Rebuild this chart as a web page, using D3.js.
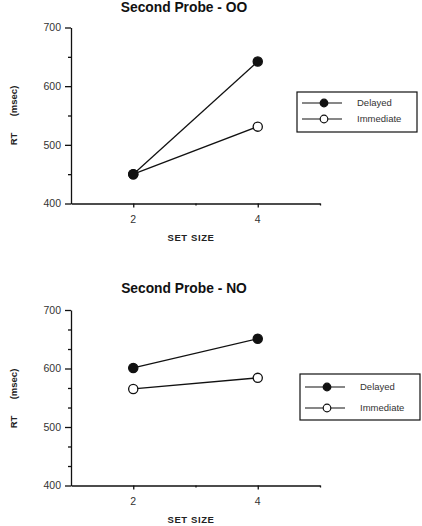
<!DOCTYPE html>
<html>
<head>
<meta charset="utf-8">
<script src="https://cdn.jsdelivr.net/npm/d3@7"></script>
<style>
  html, body { margin: 0; padding: 0; background: #fff; }
  svg { display: block; font-family: "Liberation Sans", Arial, sans-serif; }
  .title { font-size: 13.8px; font-weight: bold; fill: #111; }
  .axis-label { font-size: 9.5px; font-weight: bold; fill: #222; }
  .tick-label { font-size: 10.5px; fill: #333; }
  .legend-text { font-size: 9.5px; fill: #333; }
</style>
</head>
<body>
<script>
// data
const setSizes = [2, 4];
const seriesNames = ["Delayed", "Immediate"];
const ooDelayed = [450, 642];
const ooImmediate = [450, 531];
const noDelayed = [601, 651];
const noImmediate = [565, 584];
const yTicks = [400, 500, 600, 700];
const xTicks = [2, 4];
const xMinorTicks = [3, 5];
const ooMinor = [450, 550, 650];
const noMinor = [433.3, 466.7, 533.3, 566.7, 633.3, 666.7];

(function () {
  "use strict";

  const W = 422, H = 526;
  const ink = "#111";

  const svg = d3.select("body").append("svg")
    .attr("width", W)
    .attr("height", H);

  const x = d3.scaleLinear().domain([1, 5]).range([71, 320]);

  function drawPanel(opt) {
    const g = svg.append("g");
    const y = d3.scaleLinear().domain([400, 700]).range([opt.bottom, opt.top]);

    g.append("text").attr("class", "title")
      .attr("x", 184).attr("y", opt.titleY)
      .attr("text-anchor", "middle")
      .text(opt.title);

    // y axis
    const yAxis = g.append("g").attr("transform", `translate(${x(1)},0)`);
    yAxis.call(d3.axisLeft(y).tickValues(yTicks).tickSize(6).tickSizeOuter(0).tickFormat(""));
    yAxis.append("g").call(d3.axisLeft(y).tickValues(opt.minor).tickSize(3).tickFormat(""))
      .select(".domain").remove();
    yAxis.selectAll("line, path").attr("stroke", ink).attr("stroke-width", 1.3);

    g.selectAll(".ylab").data(yTicks).join("text")
      .attr("class", "tick-label")
      .attr("x", 61).attr("y", d => y(d))
      .attr("dy", "0.35em")
      .attr("text-anchor", "end")
      .text(d => d);

    // x axis
    const xAxis = g.append("g").attr("transform", `translate(0,${y(400)})`);
    xAxis.call(d3.axisBottom(x).tickValues(xTicks).tickSize(4).tickSizeOuter(0).tickFormat(""));
    xAxis.append("g").call(d3.axisBottom(x).tickValues(xMinorTicks).tickSize(2).tickFormat(""))
      .select(".domain").remove();
    xAxis.selectAll("line, path").attr("stroke", ink).attr("stroke-width", 1.3);

    g.selectAll(".xlab").data(xTicks).join("text")
      .attr("class", "tick-label")
      .attr("x", d => x(d)).attr("y", y(400) + 19)
      .attr("text-anchor", "middle")
      .text(d => d);

    g.append("text").attr("class", "axis-label")
      .attr("x", 191).attr("y", y(400) + opt.xLabelGap)
      .attr("text-anchor", "middle")
      .attr("letter-spacing", "0.6px")
      .text("SET SIZE");

    // "RT" and "(msec)" spaced apart, as in the original
    const yl = g.append("text").attr("class", "axis-label")
      .attr("transform", `translate(17,${opt.yLabelY}) rotate(-90)`);
    yl.append("tspan").attr("x", -22).attr("text-anchor", "middle").text("RT");
    yl.append("tspan").attr("x", 16).attr("text-anchor", "middle").text("(msec)");

    // series
    const line = d3.line().x((d, i) => x(setSizes[i])).y(d => y(d));
    const series = [
      { name: seriesNames[0], values: opt.delayed, fill: ink },
      { name: seriesNames[1], values: opt.immediate, fill: "#fff" }
    ];

    series.forEach(s => {
      g.append("path")
        .attr("d", line(s.values))
        .attr("fill", "none")
        .attr("stroke", ink)
        .attr("stroke-width", 1.3);
    });
    // open markers first so the filled one sits on top where they meet
    series.slice().reverse().forEach(s => {
      g.selectAll(null).data(s.values).join("circle")
        .attr("cx", (d, i) => x(setSizes[i]))
        .attr("cy", d => y(d))
        .attr("r", 4.6)
        .attr("fill", s.fill)
        .attr("stroke", ink)
        .attr("stroke-width", 1.3);
    });

    // legend
    const lg = g.append("g").attr("transform", `translate(${opt.legend.x},${opt.legend.y})`);
    lg.append("rect")
      .attr("width", 120).attr("height", opt.legend.h)
      .attr("fill", "#fff").attr("stroke", ink).attr("stroke-width", 1.2);
    series.forEach((s, i) => {
      const ry = opt.legend.row0 + i * opt.legend.rowH;
      lg.append("line")
        .attr("x1", 5).attr("x2", 45).attr("y1", ry).attr("y2", ry)
        .attr("stroke", ink).attr("stroke-width", 1.2);
      lg.append("circle")
        .attr("cx", 27).attr("cy", ry).attr("r", 3.8)
        .attr("fill", s.fill).attr("stroke", ink).attr("stroke-width", 1.2);
      lg.append("text").attr("class", "legend-text")
        .attr("x", 60).attr("y", ry).attr("dy", "0.35em")
        .text(s.name);
    });
  }

  drawPanel({
    title: "Second Probe - OO",
    titleY: 12,
    top: 27.5, bottom: 203.5,
    minor: ooMinor,
    delayed: ooDelayed, immediate: ooImmediate,
    xLabelGap: 37, yLabelY: 117,
    legend: { x: 297, y: 92, h: 40, row0: 11, rowH: 16 }
  });

  drawPanel({
    title: "Second Probe - NO",
    titleY: 293,
    top: 310, bottom: 485.5,
    minor: noMinor,
    delayed: noDelayed, immediate: noImmediate,
    xLabelGap: 37, yLabelY: 400,
    legend: { x: 300, y: 374, h: 46, row0: 13, rowH: 21 }
  });
})();
</script>
</body>
</html>
